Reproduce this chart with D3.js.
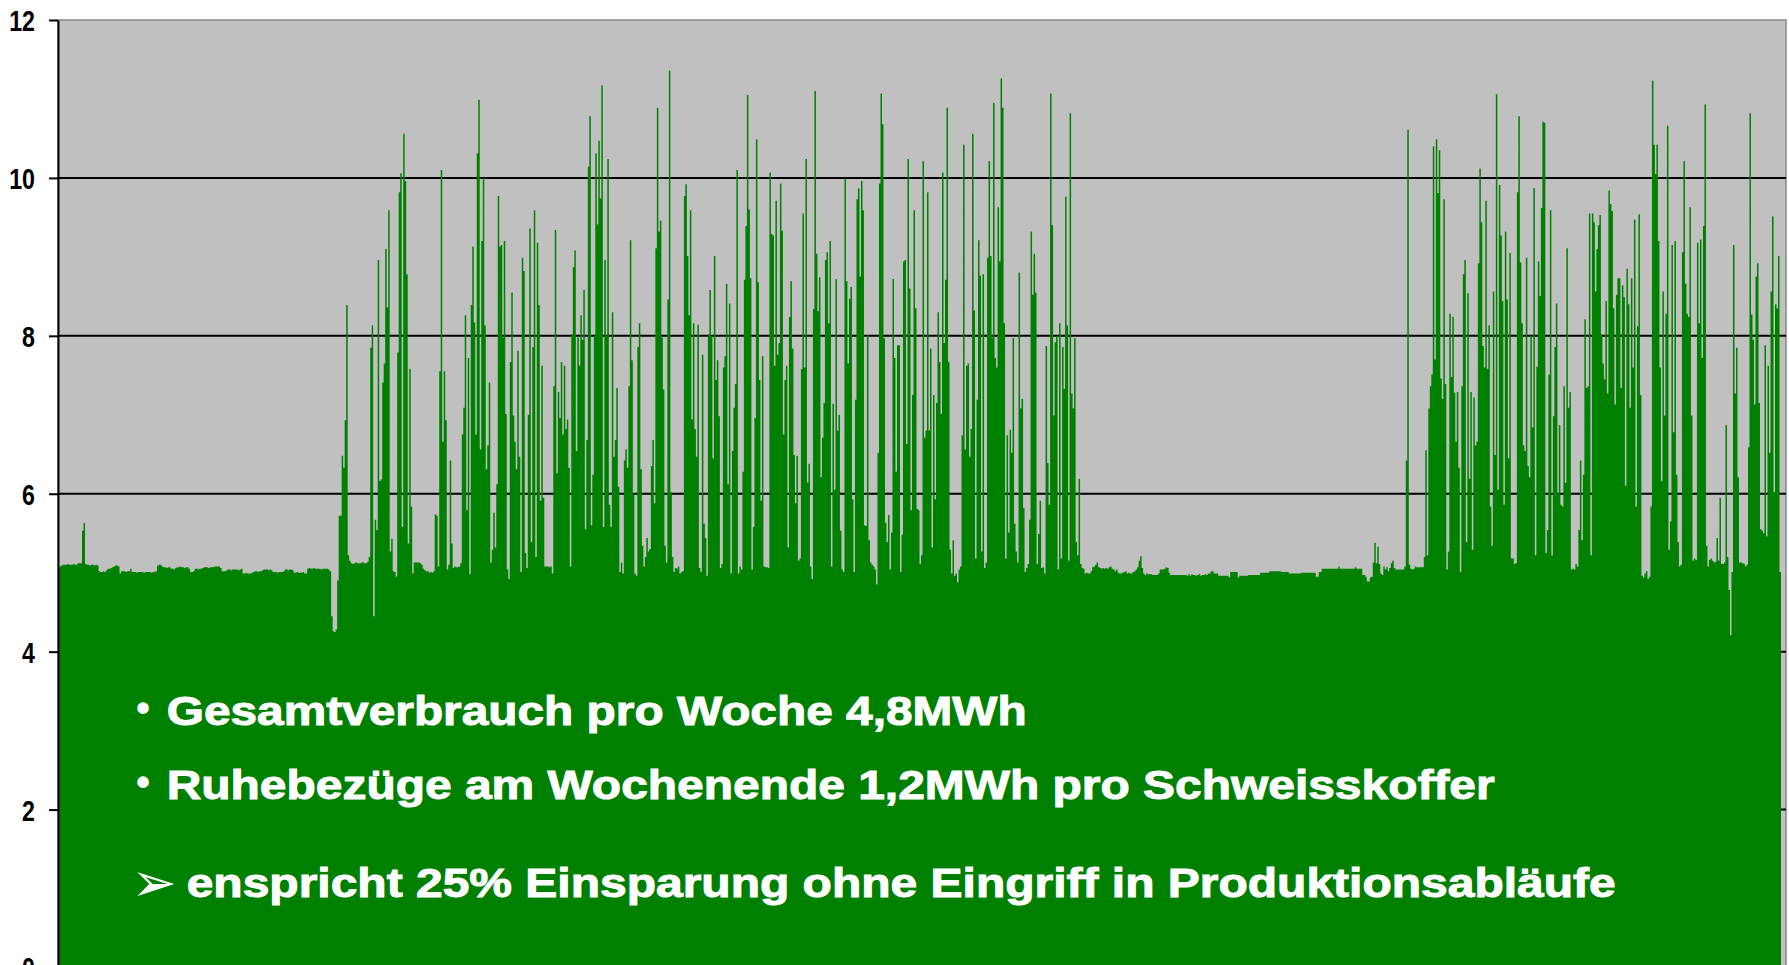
<!DOCTYPE html>
<html>
<head>
<meta charset="utf-8">
<script src="https://cdn.jsdelivr.net/npm/d3@7"></script>
<style>
  html, body { margin: 0; padding: 0; background: #fff; }
  svg { display: block; }
</style>
</head>
<body>
<div id="chart"></div>
<script>
// y axis
const yTicks = [0, 2, 4, 6, 8, 10, 12];
const gridValues = [2, 4, 6, 8, 10];

// load readings (kW) left to right
const kwSeg1 = [
  5.08, 5.08, 5.09, 5.10, 5.10, 5.10, 5.11, 5.10, 5.10, 5.10, 5.11, 5.10, 5.10,
  5.12, 5.12, 5.12, 5.53, 5.63,
  5.11, 5.10, 5.10, 5.09, 5.10, 5.10, 5.09, 5.10, 5.09,
  5.02, 5.01, 5.01, 5.02, 5.01, 5.03, 5.05, 5.05,
  5.06, 5.07, 5.08, 5.09, 5.09, 5.08, 4.99,
  5.02, 5.02, 5.02, 5.01, 5.02, 5.02, 5.05,
  5.01, 5.01, 5.01, 5.00, 5.01, 5.01, 5.01, 5.01, 5.00, 5.01, 5.01, 5.01, 5.01, 5.00, 5.01, 5.01, 5.02,
  5.09, 5.10, 5.10, 5.08, 5.07, 5.07, 5.06, 5.07, 5.07, 5.05, 5.05, 5.04,
  5.06, 5.07, 5.07, 5.08, 5.07, 5.07, 5.06, 5.07, 5.07, 5.05, 5.01, 5.01, 5.02,
  5.05, 5.05, 5.04, 5.05, 5.05, 5.06,
  5.07, 5.07, 5.07, 5.06, 5.07, 5.07, 5.07, 5.08, 5.08, 5.08, 5.08, 5.06,
  5.02, 5.02, 5.02, 5.03, 5.04, 5.04, 5.03, 5.04, 5.04, 5.04, 5.04, 5.03, 5.04, 5.05,
  4.99, 4.99, 5.00, 4.99, 4.99, 4.99, 5.00, 5.01, 5.02, 5.02, 5.01, 5.02, 5.02, 5.03,
  5.04, 5.04, 5.04, 5.03, 5.04, 5.03, 5.01, 5.01, 5.01, 5.00, 5.01, 5.01, 5.01, 5.02,
  5.04, 5.04, 5.03, 5.04, 5.04, 5.03, 5.00, 5.00, 5.01, 5.00, 5.00, 5.00, 5.01, 4.99, 4.99,
  5.05, 5.06, 5.05, 5.05, 5.06, 5.05, 5.05, 5.05, 5.05, 5.04, 5.05, 5.05, 5.05, 5.05, 5.04, 5.02,
  4.45, 4.26, 4.25, 4.28, 4.90
];

const kwSeg2 = [
  5.72, 5.72, 6.48, 6.33, 6.93, 8.39, 5.22, 5.15, 5.12, 5.11,
  5.12, 5.13, 5.12, 5.12, 5.12, 5.13, 5.13, 5.12, 5.12, 5.14, 5.20,
  7.85, 8.13, 4.45, 5.67, 5.54, 8.96, 6.16, 6.18, 7.41, 7.65,
  9.10, 8.36, 9.59, 5.27, 5.43, 5.02, 5.01, 4.95, 7.79, 9.82,
  10.06, 5.58, 10.56, 9.96, 8.78, 5.37, 7.58, 5.84, 4.99, 5.13, 5.13,
  5.13, 5.13, 5.12, 5.10, 5.05, 5.03, 5.02, 5.02, 5.00, 5.01, 5.00,
  5.02, 5.74, 5.72, 5.08, 7.55, 10.10, 6.66, 7.55, 6.93, 5.04,
  5.10, 6.42, 5.37, 5.06, 5.08, 5.07, 5.07, 5.08, 5.12, 6.75, 7.09,
  8.26, 5.79, 7.72, 4.98, 8.39, 9.13, 8.17, 6.75, 10.31, 10.99,
  6.56, 9.20, 10.00, 8.13, 6.31, 6.61, 7.41, 5.13, 5.29, 5.76,
  5.32, 6.12, 9.77, 9.13, 9.15, 7.98, 9.20, 7.01, 5.04, 4.92,
  7.67, 8.55, 6.99, 6.66, 6.31, 7.81, 6.47, 5.01, 8.99, 8.82,
  5.25, 5.06, 7.00, 9.36, 5.39, 7.86, 9.59, 5.20, 9.18, 8.39,
  5.91, 7.62, 5.95, 5.08, 5.08, 5.08, 5.07, 5.08, 4.99, 7.36, 9.34,
  6.26, 7.29, 6.96, 7.67, 6.75, 7.62, 6.82, 6.94, 6.33, 5.08,
  8.02, 8.87, 9.08, 6.54, 7.98, 7.62, 8.26, 7.95, 8.58, 5.55,
  6.68, 10.14, 10.78, 5.60, 6.24, 8.00, 10.31, 9.41, 10.47, 9.74,
  11.17, 5.58, 8.96, 8.00, 10.24, 5.86, 5.58, 8.30, 6.47, 6.68,
  7.34, 6.09, 5.01, 5.13, 4.99, 6.42, 6.56, 6.33
];

const kwSeg3 = [
  7.36, 9.21, 7.69, 6.00, 4.99, 4.96, 7.86, 8.16, 6.31, 5.34,
  5.08, 5.20, 5.44, 5.27, 5.30, 6.35, 6.68, 5.88, 9.11, 10.89, 9.32,
  9.46, 7.98, 7.32, 5.34, 5.13, 8.46, 11.36, 6.02, 5.20, 5.01,
  5.06, 5.05, 5.08, 4.99, 5.01, 5.02, 9.77, 9.92, 9.01, 8.26, 9.59, 6.94,
  8.16, 6.82, 6.47, 8.14, 5.06, 5.01, 7.76, 5.62, 5.44, 4.96,
  8.02, 8.58, 8.00, 6.45, 9.01, 7.44, 7.69, 6.98, 5.06, 5.11,
  7.60, 7.74, 8.66, 6.12, 8.41, 4.99, 6.54, 7.09, 7.39, 10.10,
  4.99, 5.08, 5.04, 6.28, 8.71, 9.39, 11.05, 9.60, 8.73, 5.04,
  5.58, 6.96, 10.49, 8.68, 7.44, 5.91, 7.74, 5.08, 5.07, 5.07, 5.06, 10.07,
  9.29, 9.27, 7.62, 9.71, 7.76, 7.91, 9.93, 9.33, 6.75, 7.44,
  7.62, 5.32, 8.24, 8.69, 7.84, 6.49, 5.88, 6.48, 5.15, 5.18,
  7.58, 9.55, 7.60, 10.24, 6.14, 6.38, 5.08, 4.92, 8.34, 11.10,
  9.04, 8.31, 8.74, 6.21, 6.71, 7.15, 8.96, 9.06, 8.16, 9.20,
  5.08, 7.14, 6.05, 8.72, 6.80, 7.00, 5.53, 5.04, 5.01, 9.99,
  8.69, 7.65, 8.47, 8.62, 5.93, 5.01, 7.19, 9.73, 9.87, 8.75,
  9.96, 9.59, 5.60, 5.59, 8.01, 5.41, 5.13, 5.10, 5.08, 5.04, 4.85,
  6.52, 9.93, 11.07, 10.68, 7.97, 5.63, 5.39, 5.73, 5.04, 5.51,
  8.72, 7.72, 6.28, 7.88, 7.88, 5.01, 5.48, 8.94, 8.96, 6.63,
  10.24, 8.60, 5.79, 7.25, 9.59, 8.35, 5.81
];

const kwSeg4 = [
  5.79, 5.11, 5.22, 10.21, 6.71, 6.80, 9.82, 6.80, 7.84, 5.32,
  7.25, 5.93, 7.15, 8.30, 7.67, 7.01, 10.07, 7.91, 8.71, 10.89,
  7.67, 5.29, 4.99, 5.41, 4.96, 4.99, 4.88, 5.04, 5.08, 6.74,
  10.42, 6.56, 7.62, 7.65, 6.47, 6.82, 10.56, 8.32, 5.18, 7.19,
  9.21, 8.76, 5.27, 8.78, 5.06, 5.13, 8.99, 10.21, 9.01, 7.98,
  10.95, 7.72, 7.60, 9.63, 8.94, 11.26, 10.89, 8.16, 5.18, 6.74,
  5.51, 6.81, 6.52, 7.97, 5.62, 5.27, 5.13, 8.80, 7.08, 7.20,
  5.82, 5.01, 5.06, 5.11, 5.67, 9.32, 8.52, 9.04, 8.55, 5.11,
  5.49, 5.91, 5.06, 5.07, 4.99, 7.87, 6.39, 5.86, 11.07, 9.40,
  6.99, 7.92, 8.00, 5.04, 8.16, 5.18, 7.86, 7.33, 9.76, 8.13,
  5.15, 10.82, 7.27, 7.08, 7.97, 5.39, 5.22, 6.19, 5.11,
  5.06, 5.05, 4.99, 5.00, 4.99, 4.99, 5.02, 5.07, 5.08, 5.10,
  5.13, 5.07, 5.06, 5.05, 5.06, 5.05, 5.06, 5.05, 5.07, 5.08,
  5.05, 5.04, 5.02, 5.04, 5.00, 4.99, 4.99, 5.00, 5.01, 5.02,
  4.99, 5.00, 4.99, 4.99, 5.01, 5.02, 5.04, 5.07, 5.15, 5.21,
  5.06, 4.99, 4.97, 4.99, 4.98, 4.98, 4.98, 4.97, 4.97, 4.97,
  4.97, 4.99, 5.04, 5.04, 5.04, 5.05, 5.07, 5.06, 5.00, 4.97,
  4.97, 4.97, 4.97, 4.97, 4.97, 4.97, 4.97, 4.97, 4.97, 4.97,
  4.96, 4.98, 4.96, 4.98, 4.97, 4.97, 4.96, 4.97, 4.98, 4.96,
  4.97, 4.97, 4.98, 4.97
];

const kwSeg5 = [
  4.99, 4.99, 5.02, 5.02, 4.99, 4.99, 4.99,
  4.96, 4.96, 4.96, 4.96, 4.96, 4.96, 4.96, 4.94,
  5.01, 5.01, 5.01, 5.01, 5.01, 4.94,
  4.96, 4.96, 4.96, 4.96, 4.96, 4.96,
  4.97, 4.97, 4.97, 4.97, 4.97, 4.97, 4.97, 4.97,
  5.00, 5.00, 5.00, 5.00, 5.00, 5.00,
  5.02, 5.02, 5.02, 5.02, 5.02, 5.02, 5.02, 5.02,
  5.01, 5.01, 5.01, 5.01, 5.01,
  4.99, 4.99, 4.99, 4.99, 4.99, 4.99, 4.99, 4.99,
  5.00, 5.00, 5.00, 5.00, 5.00, 5.00, 5.00, 5.00, 5.00, 5.00,
  4.95, 4.95, 5.01, 5.01,
  5.05, 5.05, 5.05, 5.05, 5.05, 5.05, 5.05, 5.05, 5.05, 5.05, 5.05, 5.08,
  5.05, 5.05, 5.05, 5.05, 5.05, 5.05, 5.05, 5.05, 5.05, 5.05, 5.07,
  5.05, 5.05, 5.05, 5.05, 4.97, 4.97, 4.95, 4.89, 4.89, 4.94, 4.95,
  5.13, 5.38, 5.12, 5.33, 5.11, 4.99, 4.97, 5.08, 5.04, 5.07,
  5.02, 5.06, 5.12, 5.15, 5.06, 5.04, 5.04, 5.04, 5.04, 5.04, 5.04,
  5.08, 6.42, 10.61, 5.10, 5.05, 5.04, 5.05, 5.08, 5.07, 5.07,
  5.07, 5.07, 5.07, 5.20, 6.55, 5.22, 7.08, 7.36, 7.51, 10.40,
  7.70, 10.49, 9.81, 10.35, 7.46, 7.20, 9.73, 7.39, 5.04, 5.27,
  8.28, 7.48, 8.24, 7.28, 6.66, 7.29, 6.33, 5.01, 7.36, 8.78,
  8.96, 5.39, 8.54, 6.19, 7.29, 5.29, 7.22, 6.61, 6.66, 8.92,
  10.12, 9.44, 7.87, 7.60, 9.71, 7.58, 8.13, 5.84, 5.34, 8.56,
  6.49, 11.06
];

const kwSeg6 = [
  6.05, 9.91, 9.27, 8.44, 5.86, 9.32, 8.46, 6.45, 9.05, 5.18,
  5.18, 5.11, 5.12, 9.82, 10.78, 8.93, 8.16, 6.61, 6.54, 8.99, 6.35,
  6.21, 8.00, 6.84, 9.87, 5.22, 7.61, 8.94, 8.50, 9.62, 10.71,
  10.70, 5.25, 5.54, 7.51, 9.59, 5.22, 6.98, 7.86, 8.41, 6.00,
  6.87, 5.86, 5.84, 7.36, 6.14, 9.11, 7.09, 7.29, 5.04, 5.05,
  5.04, 5.11, 5.08, 5.54, 6.42, 5.41, 6.24, 8.21, 7.34, 7.36, 9.55,
  5.22, 9.55, 9.44, 8.56, 9.10, 9.40, 9.53, 8.02, 7.65, 7.45,
  8.44, 7.27, 9.84, 9.67, 9.58, 8.35, 7.13, 8.52, 8.73, 8.73,
  7.34, 8.64, 8.49, 6.10, 8.85, 8.40, 7.09, 8.73, 7.60, 9.47,
  5.84, 8.12, 9.54, 7.25, 4.96, 4.94, 4.99, 5.02, 4.92, 4.95, 5.84,
  11.23, 10.42, 10.05, 10.42, 9.20, 7.60, 6.16, 8.56, 6.99, 8.28,
  10.66, 5.29, 5.65, 9.15, 6.78, 9.20, 6.24, 5.39, 5.08, 5.10, 9.06,
  10.21, 8.66, 8.28, 8.24, 9.63, 6.99, 5.15, 5.18, 5.16, 9.18, 8.16,
  9.22, 7.72, 9.39, 10.93, 5.34, 5.08, 5.16, 5.18, 5.15, 5.13, 5.14,
  5.44, 5.15, 5.95, 5.11, 5.11, 5.13, 6.87, 5.20, 4.78, 4.21,
  5.01, 9.15, 7.27, 7.85, 6.21, 5.13, 5.13, 5.12, 5.11, 5.08, 5.10,
  6.59, 10.82, 8.27, 7.95, 7.13, 8.75, 8.92, 7.15, 5.55, 5.53, 5.50,
  7.88, 5.46, 7.62, 6.52, 8.56, 9.51, 6.02, 8.40, 8.35, 9.01,
  5.01, 5.29
];

const kw = [].concat(kwSeg1, kwSeg2, kwSeg3, kwSeg4, kwSeg5, kwSeg6);

// overlay text
const bulletMarks = ['\u2022', '\u2022', '\u27A2'];
const bulletTexts = [
  'Gesamtverbrauch pro Woche 4,8MWh',
  'Ruhebezüge am Wochenende 1,2MWh pro Schweisskoffer',
  'enspricht 25% Einsparung ohne Eingriff in Produktionsabläufe'
];

const width = 1789;
const height = 965;
const plot = { left: 58, right: 1786, top: 20, bottom: 967.5, dataRight: 1781 };

const svg = d3.select('#chart')
  .append('svg')
  .attr('width', width)
  .attr('height', height);

const x = d3.scaleLinear()
  .domain([0, kw.length - 1])
  .range([plot.left, plot.dataRight]);

const y = d3.scaleLinear()
  .domain([0, 12])
  .range([plot.bottom, plot.top]);

// plot background
svg.append('rect')
  .attr('x', plot.left)
  .attr('y', plot.top)
  .attr('width', plot.right - plot.left)
  .attr('height', height - plot.top + 10)
  .attr('fill', '#c0c0c0')
  .attr('stroke', '#8a8a8a')
  .attr('stroke-width', 1.5);

// gridlines
svg.append('g')
  .selectAll('line')
  .data(gridValues)
  .join('line')
  .attr('x1', plot.left)
  .attr('x2', plot.right)
  .attr('y1', d => y(d))
  .attr('y2', d => y(d))
  .attr('stroke', '#000')
  .attr('stroke-width', 2);

// load area
const area = d3.area()
  .x((d, i) => x(i))
  .y0(y(0))
  .y1(d => y(d))
  .curve(d3.curveStepAfter);

svg.append('path')
  .datum(kw)
  .attr('d', area)
  .attr('fill', '#008000');

// y axis
const yAxis = svg.append('g')
  .attr('transform', `translate(${plot.left},0)`)
  .call(d3.axisLeft(y).tickValues(yTicks).tickSize(9).tickSizeOuter(0));

yAxis.select('.domain')
  .attr('stroke', '#000')
  .attr('stroke-width', 2);

yAxis.selectAll('.tick line')
  .attr('stroke', '#000')
  .attr('stroke-width', 2);

yAxis.selectAll('.tick text')
  .attr('x', -23 / 0.8)
  .attr('dy', '0.36em')
  .attr('transform', 'scale(0.8,1)')
  .style('font-family', '"Liberation Sans", Arial, sans-serif')
  .style('font-size', '29px')
  .style('font-weight', 'bold')
  .style('fill', '#000');

// overlay text on the green fill
const textStarts = [166.7, 166.7, 186.7];
const textWidths = [860, 1328, 1429];
const baselines = [725, 799, 897];

const notes = svg.append('g')
  .style('font-family', '"Liberation Sans", Arial, sans-serif')
  .style('font-weight', 'bold')
  .style('fill', '#fff');

notes.selectAll('text.mark')
  .data(bulletMarks.slice(0, 2))
  .join('text')
  .attr('class', 'mark')
  .attr('x', 143)
  .attr('y', (d, i) => baselines[i] - 3)
  .attr('text-anchor', 'middle')
  .style('font-size', '40px')
  .text(d => d);

notes.append('text')
  .attr('x', 154)
  .attr('y', baselines[2] + 4)
  .attr('text-anchor', 'middle')
  .style('font-family', '"DejaVu Sans", sans-serif')
  .style('font-weight', 'normal')
  .style('font-size', '54px')
  .text(bulletMarks[2]);

notes.selectAll('text.line')
  .data(bulletTexts)
  .join('text')
  .attr('class', 'line')
  .attr('x', (d, i) => textStarts[i])
  .attr('y', (d, i) => baselines[i])
  .attr('textLength', (d, i) => textWidths[i])
  .attr('lengthAdjust', 'spacingAndGlyphs')
  .style('font-size', '41px')
  .style('stroke', '#fff')
  .style('stroke-width', 1)
  .text(d => d);
</script>
</body>
</html>
